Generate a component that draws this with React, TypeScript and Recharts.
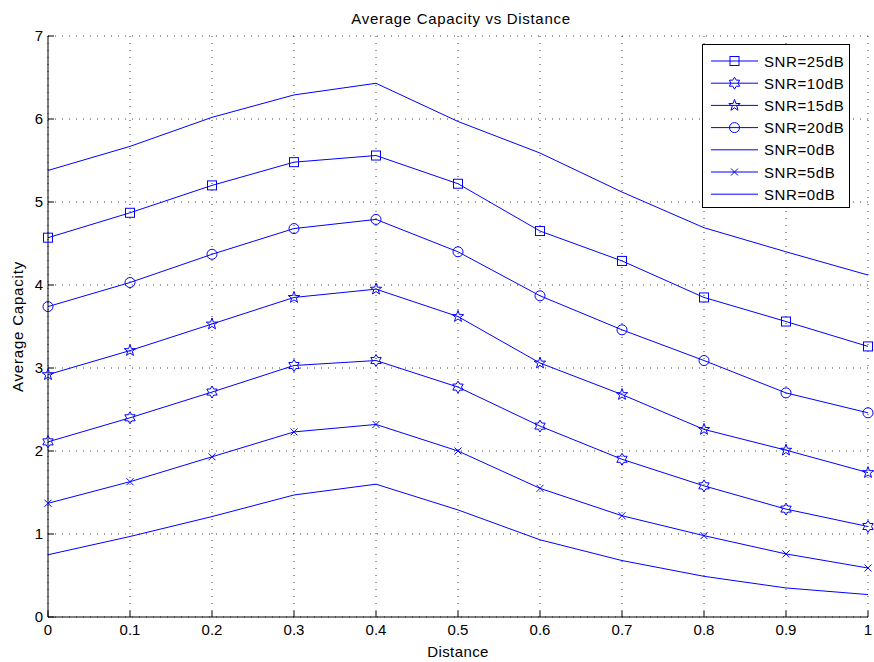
import { LineChart, Line, XAxis, YAxis, CartesianGrid, Legend } from 'recharts';

const distance = [0, 0.1, 0.2, 0.3, 0.4, 0.5, 0.6, 0.7, 0.8, 0.9, 1];
const snr25 = [4.57, 4.87, 5.2, 5.48, 5.56, 5.22, 4.65, 4.29, 3.85, 3.56, 3.26];
const snr10 = [2.11, 2.4, 2.71, 3.03, 3.09, 2.77, 2.3, 1.9, 1.58, 1.3, 1.09];
const snr15 = [2.92, 3.21, 3.53, 3.85, 3.95, 3.62, 3.06, 2.68, 2.26, 2.01, 1.74];
const snr20 = [3.74, 4.03, 4.37, 4.68, 4.79, 4.4, 3.87, 3.46, 3.09, 2.7, 2.46];
const snr0Top = [5.38, 5.67, 6.02, 6.29, 6.43, 5.97, 5.59, 5.12, 4.69, 4.4, 4.12];
const snr5 = [1.37, 1.63, 1.93, 2.23, 2.32, 2.0, 1.55, 1.22, 0.98, 0.76, 0.59];
const snr0 = [0.75, 0.97, 1.21, 1.47, 1.6, 1.29, 0.93, 0.68, 0.49, 0.35, 0.27];

const xTicks = [0, 0.1, 0.2, 0.3, 0.4, 0.5, 0.6, 0.7, 0.8, 0.9, 1];
const yTicks = [0, 1, 2, 3, 4, 5, 6, 7];

type MarkerKind = 'square' | 'hexagram' | 'star' | 'circle' | 'none' | 'x';

const series: { key: string; label: string; values: number[]; marker: MarkerKind }[] = [
  { key: 's25', label: 'SNR=25dB', values: snr25, marker: 'square' },
  { key: 's10', label: 'SNR=10dB', values: snr10, marker: 'hexagram' },
  { key: 's15', label: 'SNR=15dB', values: snr15, marker: 'star' },
  { key: 's20', label: 'SNR=20dB', values: snr20, marker: 'circle' },
  { key: 's0top', label: 'SNR=0dB', values: snr0Top, marker: 'none' },
  { key: 's5', label: 'SNR=5dB', values: snr5, marker: 'x' },
  { key: 's0', label: 'SNR=0dB', values: snr0, marker: 'none' },
];

const data = distance.map((d, i) => {
  const row: Record<string, number> = { d };
  series.forEach((s) => {
    row[s.key] = s.values[i];
  });
  return row;
});

const BLUE = '#0000ff';
const FONT = '"Liberation Sans", Arial, sans-serif';

function starPoints(cx: number, cy: number, n: number, ro: number, ri: number) {
  const pts: string[] = [];
  for (let i = 0; i < n * 2; i++) {
    const r = i % 2 === 0 ? ro : ri;
    const a = -Math.PI / 2 + (i * Math.PI) / n;
    pts.push(`${cx + r * Math.cos(a)},${cy + r * Math.sin(a)}`);
  }
  return pts.join(' ');
}

function Marker({ kind, cx, cy }: { kind: MarkerKind; cx: number; cy: number }) {
  const common = { fill: 'none', stroke: BLUE, strokeWidth: 1 };
  switch (kind) {
    case 'square':
      return <rect x={cx - 4.5} y={cy - 4.5} width={9} height={9} {...common} />;
    case 'circle':
      return <circle cx={cx} cy={cy} r={5} {...common} />;
    case 'star':
      return <polygon points={starPoints(cx, cy, 5, 6, 2.4)} {...common} />;
    case 'hexagram':
      return <polygon points={starPoints(cx, cy, 6, 6, 3.5)} {...common} />;
    case 'x':
      return (
        <g {...common}>
          <line x1={cx - 3.5} y1={cy - 3.5} x2={cx + 3.5} y2={cy + 3.5} />
          <line x1={cx - 3.5} y1={cy + 3.5} x2={cx + 3.5} y2={cy - 3.5} />
        </g>
      );
    default:
      return null;
  }
}

const LegendBox = () => (
  <svg width={148} height={164} style={{ display: 'block' }}>
    <rect x={0.5} y={0.5} width={147} height={163} fill="#fff" stroke="#000" />
    {series.map((s, i) => {
      const y = 17 + i * 22.2;
      return (
        <g key={s.key + i}>
          <line x1={9} y1={y} x2={56} y2={y} stroke={BLUE} strokeWidth={1} />
          <Marker kind={s.marker} cx={32.5} cy={y} />
          <text x={62} y={y + 5.5} fontSize={15} letterSpacing={0.6} fontFamily={FONT} fill="#000">
            {s.label}
          </text>
        </g>
      );
    })}
  </svg>
);

export default function App() {
  return (
    <div style={{ position: 'absolute', left: 0, top: 0, width: 874, height: 662, background: '#fff' }}>
      <div
        style={{
          position: 'absolute',
          left: 48,
          top: 11,
          width: 826,
          textAlign: 'center',
          fontFamily: FONT,
          fontSize: 15,
          lineHeight: '15px',
          letterSpacing: 0.7,
          color: '#000',
        }}
      >
        Average Capacity vs Distance
      </div>
      <LineChart
        width={874}
        height={662}
        data={data}
        margin={{ top: 36, right: 6, left: 0, bottom: 0 }}
        style={{ fontFamily: FONT }}
      >
        <CartesianGrid stroke="#444" strokeDasharray="1 6" />
        <XAxis
          dataKey="d"
          type="number"
          domain={[0, 1]}
          ticks={xTicks}
          height={45}
          stroke="#000"
          tickSize={-6}
          tickMargin={13}
          tick={{ fill: '#000', fontSize: 15 }}
          interval={0}
          label={{
            value: 'Distance',
            position: 'insideBottom',
            offset: 5,
            fill: '#000',
            fontSize: 15,
            style: { letterSpacing: 0.4 },
          }}
        />
        <XAxis
          xAxisId="top"
          dataKey="d"
          type="number"
          orientation="top"
          domain={[0, 1]}
          ticks={xTicks}
          height={0}
          stroke="#000"
          tickSize={-6}
          tickFormatter={() => ''}
          interval={0}
        />
        <YAxis
          type="number"
          domain={[0, 7]}
          ticks={yTicks}
          width={48}
          stroke="#000"
          tickSize={-6}
          tickMargin={11}
          tick={{ fill: '#000', fontSize: 15 }}
          interval={0}
          label={{
            value: 'Average Capacity',
            angle: -90,
            position: 'insideLeft',
            offset: 18,
            fill: '#000',
            fontSize: 15,
            style: { textAnchor: 'middle', letterSpacing: 0.8 },
          }}
        />
        <YAxis
          yAxisId="right"
          orientation="right"
          type="number"
          domain={[0, 7]}
          ticks={yTicks}
          width={0}
          stroke="#000"
          tickSize={-6}
          tickFormatter={() => ''}
          interval={0}
        />
        <Legend
          layout="vertical"
          align="center"
          verticalAlign="middle"
          content={() => <LegendBox />}
          wrapperStyle={{ position: 'absolute', left: 702, top: 44, width: 148, height: 164 }}
        />
        {series.map((s) => (
          <Line
            key={s.key}
            dataKey={s.key}
            name={s.label}
            type="linear"
            stroke={BLUE}
            strokeWidth={1}
            isAnimationActive={false}
            activeDot={false}
            dot={
              s.marker === 'none'
                ? false
                : (p: any) => <Marker key={`${s.key}-${p.index}`} kind={s.marker} cx={p.cx} cy={p.cy} />
            }
          />
        ))}
      </LineChart>
    </div>
  );
}
